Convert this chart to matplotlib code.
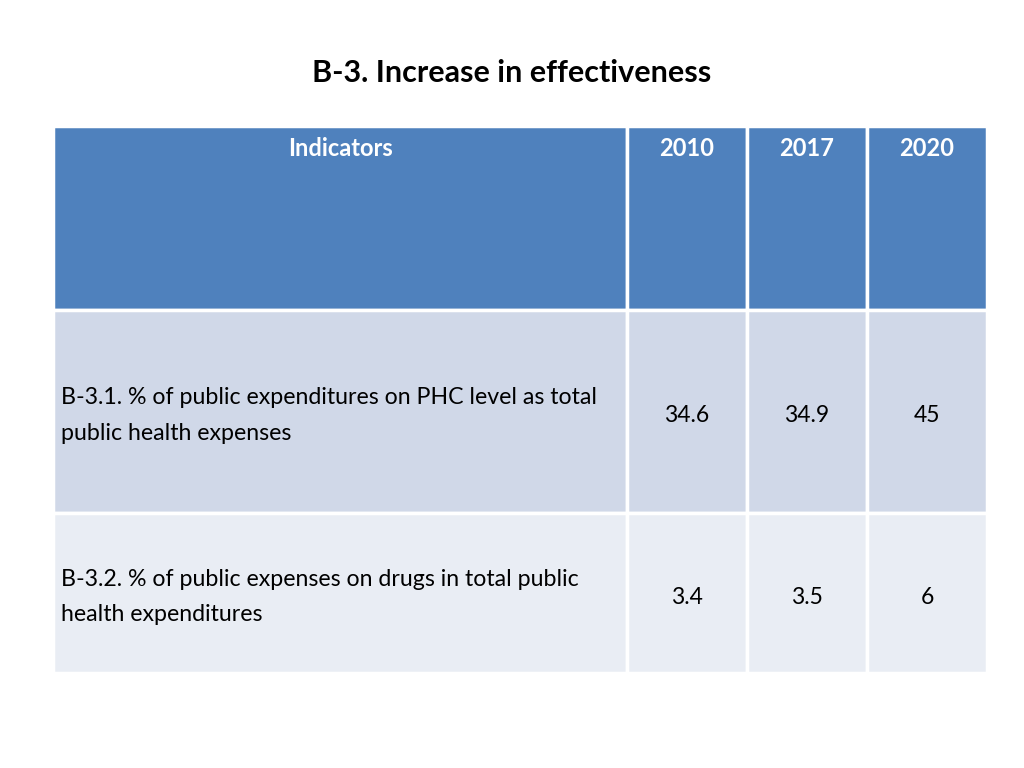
import matplotlib
matplotlib.use("Agg")
import matplotlib.pyplot as plt
from matplotlib.patches import Rectangle

title = "B-3. Increase in effectiveness"
header = ["Indicators", "2010", "2017", "2020"]
indicators = [
    "B-3.1. % of public expenditures on PHC level as total\npublic health expenses",
    "B-3.2. % of public expenses on drugs in total public\nhealth expenditures",
]
v2010 = ["34.6", "3.4"]
v2017 = ["34.9", "3.5"]
v2020 = ["45", "6"]

FONT = ["Lato", "DejaVu Sans"]
plt.rcParams['font.family'] = FONT

fig = plt.figure(figsize=(10.24, 7.68), dpi=100)
ax = fig.add_axes([0, 0, 1, 1])
ax.set_xlim(0, 1024)
ax.set_ylim(768, 0)
ax.axis("off")

col_edges = [53, 627, 747, 867, 987]
row_edges = [126, 310, 513, 673]
colors = ["#4F81BD", "#D0D8E8", "#E9EDF4"]
gap = 2.5

ax.text(512, 73, title, ha="center", va="center", fontsize=22, fontweight="bold", color="#000000")

rows = [header] + [[indicators[i], v2010[i], v2017[i], v2020[i]] for i in range(len(indicators))]
for r, row in enumerate(rows):
    y0, y1 = row_edges[r], row_edges[r + 1]
    for c, txt in enumerate(row):
        x0, x1 = col_edges[c], col_edges[c + 1]
        ax.add_patch(Rectangle((x0, y0), x1 - x0, y1 - y0, facecolor=colors[r],
                               edgecolor="white", linewidth=gap))
        if r == 0:
            ax.text((x0 + x1) / 2, 149, txt, ha="center", va="center", fontsize=17,
                    fontweight="bold", color="white")
        else:
            yc = (y0 + y1) / 2 + 4
            if c == 0:
                ax.text(61, yc, txt, ha="left", va="center", fontsize=16.7,
                        color="black", linespacing=1.88)
            else:
                ax.text((x0 + x1) / 2, yc, txt, ha="center", va="center", fontsize=16.5,
                        color="black")

fig.savefig("out.png", dpi=100)
